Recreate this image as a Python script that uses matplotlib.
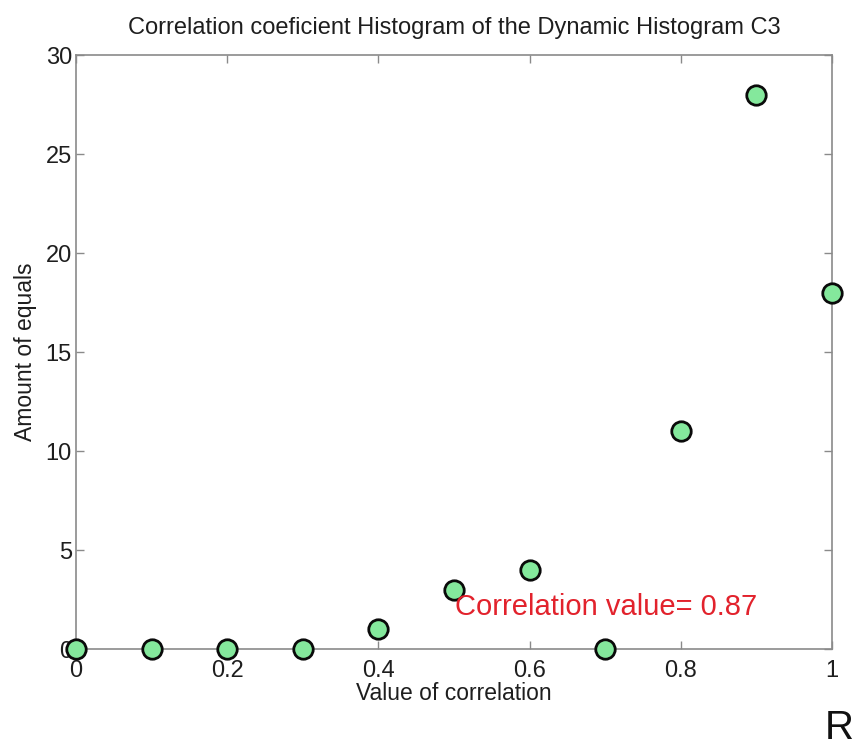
import matplotlib
matplotlib.use("Agg")
import matplotlib.pyplot as plt

plt.rcParams['font.family'] = ['Liberation Sans', 'DejaVu Sans']

# data
corr_values = [0.0, 0.1, 0.2, 0.3, 0.4, 0.5, 0.6, 0.7, 0.8, 0.9, 1.0]
equal_counts = [0, 0, 0, 0, 1, 3, 4, 0, 11, 28, 18]
x_ticks = [0, 0.2, 0.4, 0.6, 0.8, 1]
x_tick_labels = ['0', '0.2', '0.4', '0.6', '0.8', '1']
y_ticks = [0, 5, 10, 15, 20, 25, 30]
corr_text = "Correlation value= 0.87"

spine_col = '#8a8a8a'
text_col = '#1e1e1e'
marker_face = '#84e89c'

fig = plt.figure(figsize=(8.57, 7.49), dpi=100)
ax = fig.add_axes([0.0887, 0.1335, 0.882, 0.793])

ax.plot(corr_values, equal_counts, linestyle='none', marker='o', markersize=14,
        markerfacecolor=marker_face, markeredgecolor='#0a0a0a', markeredgewidth=2,
        clip_on=False, zorder=5)

ax.set_xlim(0, 1)
ax.set_ylim(0, 30)
ax.set_xticks(x_ticks)
ax.set_xticklabels(x_tick_labels)
ax.set_yticks(y_ticks)

for s in ax.spines.values():
    s.set_color(spine_col)
    s.set_linewidth(1.2)

ax.tick_params(direction='in', top=True, right=True, length=6, width=1,
               color=spine_col, labelsize=17, labelcolor=text_col, pad=3)
ax.tick_params(axis='x', pad=8)

ax.set_title("Correlation coeficient Histogram of the Dynamic Histogram C3",
             fontsize=17, color=text_col, pad=15)
ax.set_xlabel("Value of correlation", fontsize=16.5, color=text_col, labelpad=0)
ax.set_ylabel("Amount of equals", fontsize=16.5, color=text_col, labelpad=6)

ax.text(0.502, 2.1, corr_text, color='#e2222c', fontsize=21,
        ha='left', va='center', zorder=6)

fig.text(0.962, 0.014, "R", fontsize=29, color='#111111', ha='left', va='baseline')

fig.savefig('out.png', dpi=100, facecolor='white')
